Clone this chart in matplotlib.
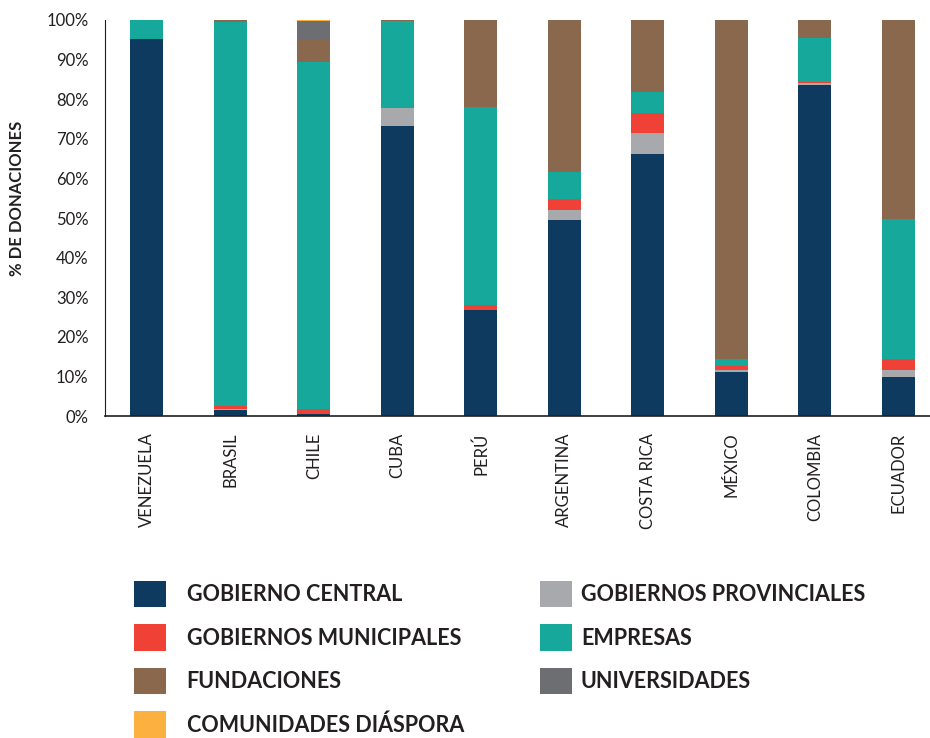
import numpy as np
import matplotlib
matplotlib.use("Agg")
from matplotlib import pyplot as plt
from matplotlib.patches import Patch

plt.rcParams['font.family'] = ['Lato', 'DejaVu Sans']

paises = ['VENEZUELA', 'BRASIL', 'CHILE', 'CUBA', 'PERÚ',
          'ARGENTINA', 'COSTA RICA', 'MÉXICO', 'COLOMBIA', 'ECUADOR']

# % de donaciones por fuente (de abajo hacia arriba)
gobierno_central = [95.2, 1.5, 0.6, 73.3, 26.8, 49.5, 66.2, 11.2, 83.6, 9.8]
gobiernos_provinciales = [0.0, 0.3, 0.0, 4.4, 0.0, 2.5, 5.3, 0.4, 0.4, 1.8]
gobiernos_municipales = [0.0, 0.7, 1.2, 0.0, 1.2, 2.7, 5.0, 1.0, 0.3, 2.7]
empresas = [4.8, 97.1, 87.6, 22.1, 50.1, 6.9, 5.2, 1.8, 11.2, 35.4]
fundaciones = [0.0, 0.4, 5.5, 0.2, 21.9, 38.4, 18.3, 85.6, 4.5, 50.3]
universidades = [0.0, 0.0, 4.8, 0.0, 0.0, 0.0, 0.0, 0.0, 0.0, 0.0]
comunidades_diaspora = [0.0, 0.0, 0.3, 0.0, 0.0, 0.0, 0.0, 0.0, 0.0, 0.0]

series = [
    ('GOBIERNO CENTRAL', gobierno_central, '#0E3A5F'),
    ('GOBIERNOS PROVINCIALES', gobiernos_provinciales, '#A7A9AC'),
    ('GOBIERNOS MUNICIPALES', gobiernos_municipales, '#EF4135'),
    ('EMPRESAS', empresas, '#17A89C'),
    ('FUNDACIONES', fundaciones, '#89684E'),
    ('UNIVERSIDADES', universidades, '#6D6E71'),
    ('COMUNIDADES DIÁSPORA', comunidades_diaspora, '#FBB040'),
]

fig = plt.figure(figsize=(9.3, 7.38), dpi=100)
ax = fig.add_axes([0.113, 0.4363, 0.887, 0.5366])

x = np.arange(len(paises))
bottom = np.zeros(len(paises))
colores = {}
for nombre, vals, color in series:
    vals = np.array(vals)
    ax.bar(x, vals, 0.395, bottom=bottom, color=color, edgecolor='none')
    bottom += vals
    colores[nombre] = color

ax.set_xlim(-0.5, 9.38)
ax.set_ylim(0, 100)
ax.set_yticks(np.arange(0, 101, 10))
ax.set_yticklabels([f'{v}%' for v in range(0, 101, 10)], fontsize=12, color='#231F20')
ax.set_xticks(x)
ax.set_xticklabels(paises, rotation=90, fontsize=12, color='#231F20', va='top')
ax.tick_params(axis='both', length=0)
ax.tick_params(axis='y', pad=12)
ax.tick_params(axis='x', pad=12)
for s in ['top', 'right']:
    ax.spines[s].set_visible(False)
for s in ['left', 'bottom']:
    ax.spines[s].set_color('#231F20')
    ax.spines[s].set_linewidth(1.2)
ax.spines['left'].set_linewidth(0.8)

ax.set_ylabel('% DE DONACIONES', fontsize=12, fontweight='bold', color='#231F20')
ax.yaxis.set_label_coords(-0.097, 0.55)

col1 = ['GOBIERNO CENTRAL', 'GOBIERNOS MUNICIPALES', 'FUNDACIONES', 'COMUNIDADES DIÁSPORA']
col2 = ['GOBIERNOS PROVINCIALES', 'EMPRESAS', 'UNIVERSIDADES']

ley_kw = dict(frameon=False, loc='upper left', borderpad=0, borderaxespad=0,
              handlelength=1.5, handleheight=1.5, labelspacing=0.8,
              prop={'weight': 'bold', 'size': 15.5})
h1 = [Patch(facecolor=colores[n], edgecolor='none') for n in col1]
l1 = fig.legend(h1, col1, bbox_to_anchor=(134 / 930, 1 - 581 / 738),
                handletextpad=0.95, **ley_kw)
h2 = [Patch(facecolor=colores[n], edgecolor='none') for n in col2]
l2 = fig.legend(h2, col2, bbox_to_anchor=(540 / 930, 1 - 581 / 738),
                handletextpad=0.4, **ley_kw)
for ley in (l1, l2):
    for t in ley.get_texts():
        t.set_color('#231F20')

fig.savefig('out.png', dpi=100)
